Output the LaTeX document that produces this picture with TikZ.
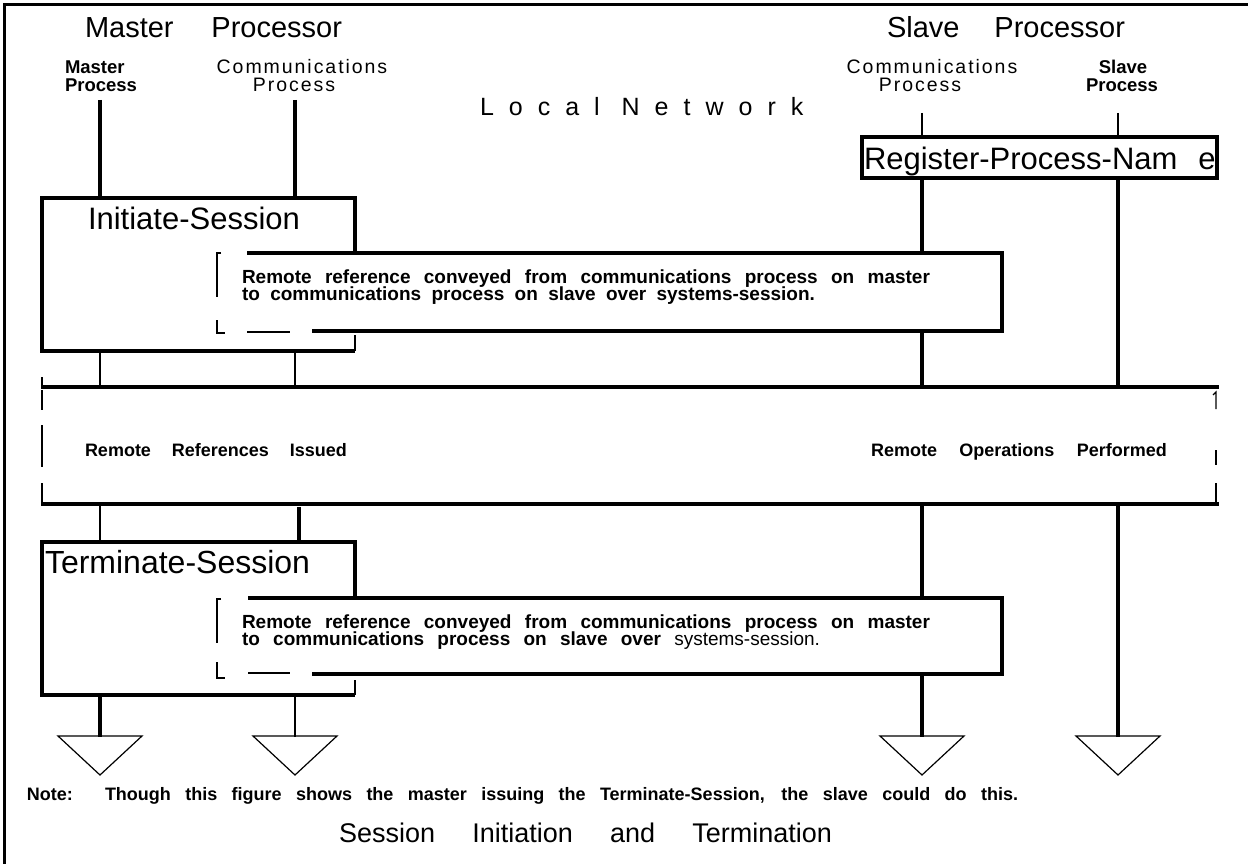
\documentclass[tikz,border=0pt]{standalone}
\usepackage{fontspec}
\setmainfont{Liberation Sans}
\newcommand\spreadbox[2]{\makebox[#1][s]{#2}}
\newcommand\fsz[1]{\fontsize{#1}{#1}\selectfont}
\tikzset{
  thick line/.style={line width=3.6pt},
  thin line/.style={line width=1.2pt},
  mid line/.style={line width=2.4pt},
  txt/.style={anchor=base west, inner sep=0pt, outer sep=0pt},
  sink/.style={thin line, line join=miter},
}
\begin{document}
\begin{tikzpicture}[x=1pt,y=-1pt]
\useasboundingbox (0,0) rectangle (1248,864);
% page frame (top and left rules)
\draw[line width=3pt] (4,864) -- (4,5) -- (1248,5);

% ---------- headings ----------
\node[txt] (mtitle) at (85,38) {\fsz{29}\spreadbox{257pt}{Master Processor}};
\node[txt] (stitle) at (887,38) {\fsz{29}\spreadbox{238pt}{Slave Processor}};
\node[txt] (mp1) at (65,74) {\fsz{18.5}\bfseries Master};
\node[txt] (mp2) at (65,92) {\fsz{18.5}\bfseries Process};
\node[txt,anchor=base] (mc1) at (302,74) {\fsz{19.5}\addfontfeatures{LetterSpace=10}Communications};
\node[txt,anchor=base] (mc2) at (294,92) {\fsz{19.5}\addfontfeatures{LetterSpace=10}Process};
\node[txt,anchor=base] (sc1) at (932,74) {\fsz{19.5}\addfontfeatures{LetterSpace=10}Communications};
\node[txt,anchor=base] (sc2) at (920,92) {\fsz{19.5}\addfontfeatures{LetterSpace=10}Process};
\node[txt,anchor=base] (sp1) at (1123,74) {\fsz{18.5}\bfseries Slave};
\node[txt,anchor=base] (sp2) at (1122,92) {\fsz{18.5}\bfseries Process};
\node[txt] (lnet) at (480,116) {\fsz{25}\addfontfeatures{LetterSpace=60}Local Network};

% ---------- lifeline anchor points ----------
\coordinate (mA) at (100,100);  \coordinate (cA) at (295,100);
\coordinate (sA) at (922,113);  \coordinate (pA) at (1118,113);

% master side, above Initiate-Session
\draw[thick line] (mA) -- (100,198);
\draw[thick line] (cA) -- (295,198);

% slave side, Register-Process-Name
\draw[thin line] (sA) -- (922,137);
\draw[thin line] (pA) -- (1118,137);
\node[txt] (reg) at (864,170) {\fsz{31}Register-Process-Nam\hspace{21pt}e};
\draw[thick line] (862,137) rectangle (1217,178);
\draw[thick line] (922,178) -- (922,387);
\draw[thick line] (1118,178) -- (1118,387);

% ---------- Initiate-Session ----------
\draw[thick line] (355,253) -- (355,198) -- (42,198) -- (42,351) -- (355,351);
\draw[thin line] (355,335) -- (355,351);
\node[txt] (init) at (88,229) {\fsz{31}Initiate-Session};

% message box 1
\fill[white] (247,253) rectangle (1002,331);
\draw[thick line] (247,253) -- (1002,253) -- (1002,331) -- (312,331);
\draw[mid line] (247,332) -- (290,332);
\draw[mid line] (221,253) -- (217,253) -- (217,297);
\draw[mid line] (217,320) -- (217,333) -- (225,333);
\node[txt] (m1a) at (242,283) {\fsz{19}\bfseries\spreadbox{688pt}{Remote reference conveyed from communications process on master}};
\node[txt] (m1b) at (242,300) {\fsz{19}\bfseries\spreadbox{573pt}{to communications process on slave over systems-session.}};

% master side, below Initiate-Session
\draw[thin line] (100,351) -- (100,387);
\draw[thin line] (295,351) -- (295,387);

% ---------- Local network band ----------
\draw[thick line] (41,387) -- (1219,387);
\draw[thick line] (41,504) -- (1219,504);
\draw[thin line] (42,377) -- (42,387);
\draw[thin line] (42,390) -- (42,410);
\draw[mid line] (42,425) -- (42,467);
\draw[thin line] (42,483) -- (42,502);
\draw[thin line] (1213,395) -- (1216,392) -- (1216,409);
\draw[mid line] (1216,450) -- (1216,465);
\draw[thin line] (1216,483) -- (1216,503);
\node[txt] (rri) at (85,456) {\fsz{18}\bfseries\spreadbox{262pt}{Remote References Issued}};
\node[txt] (rop) at (871,456) {\fsz{18}\bfseries\spreadbox{296pt}{Remote Operations Performed}};

% ---------- below the network ----------
\draw[thin line] (100,504) -- (100,542);
\draw[thick line] (299,507) -- (299,542);
\draw[thick line] (922,504) -- (922,737);
\draw[thick line] (1118,504) -- (1118,737);

% ---------- Terminate-Session ----------
\draw[thick line] (355,598) -- (355,542) -- (42,542) -- (42,695) -- (355,695);
\draw[thin line] (355,680) -- (355,695);
\node[txt] (term) at (45,573) {\fsz{32}Terminate-Session};

% message box 2
\fill[white] (248,598) rectangle (1002,674);
\draw[thick line] (248,598) -- (1002,598) -- (1002,674) -- (312,674);
\draw[mid line] (248,673) -- (290,673);
\draw[mid line] (221,599) -- (217,599) -- (217,643);
\draw[mid line] (217,662) -- (217,678) -- (225,678);
\node[txt] (m2a) at (242,628) {\fsz{19}\bfseries\spreadbox{688pt}{Remote reference conveyed from communications process on master}};
\node[txt] (m2b) at (242,645) {\fsz{19}\spreadbox{578pt}{\bfseries to communications process on slave over \mdseries systems-session.}};

% master side, below Terminate-Session
\draw[thick line] (100,695) -- (100,737);
\draw[thin line] (295,695) -- (295,737);

% ---------- lifeline ends ----------
\foreach \xx/\nm in {100/e1, 295/e2, 922/e3, 1118/e4}{
  \coordinate (\nm) at (\xx,775);
  \draw[sink] (\xx-42,736) -- (\xx+42,736) -- (\nm) -- cycle;
}

% ---------- note and caption ----------
\node[txt] (note) at (27,800) {\fsz{18}\bfseries Note:};
\node[txt] (notetxt) at (105,800) {\fsz{18}\bfseries\spreadbox{913pt}{Though this figure shows the master issuing the Terminate-Session, the slave could do this.}};
\node[txt] (cap) at (339,842) {\fsz{27}\spreadbox{493pt}{Session Initiation and Termination}};
\end{tikzpicture}
\end{document}
